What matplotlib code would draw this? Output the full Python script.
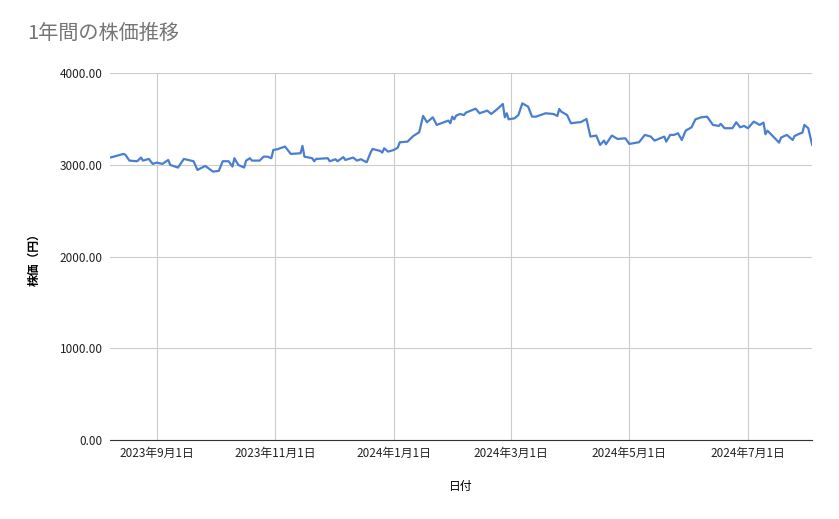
import matplotlib
matplotlib.use("Agg")
import matplotlib.pyplot as plt
import pandas as pd

plt.rcParams['font.family'] = ['Noto Sans CJK JP', 'DejaVu Sans']

# traced daily closes (approximate)
dates = [
    "2023-08-08", "2023-08-10", "2023-08-15", "2023-08-16", "2023-08-18", "2023-08-22",
    "2023-08-24", "2023-08-25", "2023-08-28", "2023-08-30", "2023-09-01", "2023-09-04",
    "2023-09-07", "2023-09-08", "2023-09-12", "2023-09-15", "2023-09-20", "2023-09-22",
    "2023-09-26", "2023-09-30", "2023-10-03", "2023-10-05", "2023-10-08", "2023-10-10",
    "2023-10-11", "2023-10-13", "2023-10-16", "2023-10-17", "2023-10-19", "2023-10-20",
    "2023-10-24", "2023-10-26", "2023-10-28", "2023-10-30", "2023-10-31", "2023-11-02",
    "2023-11-06", "2023-11-09", "2023-11-14", "2023-11-15", "2023-11-16", "2023-11-20",
    "2023-11-21", "2023-11-22", "2023-11-28", "2023-11-29", "2023-12-02", "2023-12-03",
    "2023-12-06", "2023-12-07", "2023-12-11", "2023-12-13", "2023-12-15", "2023-12-18",
    "2023-12-20", "2023-12-21", "2023-12-25", "2023-12-26", "2023-12-27", "2023-12-29",
    "2024-01-01", "2024-01-03", "2024-01-04", "2024-01-08", "2024-01-11", "2024-01-14",
    "2024-01-16", "2024-01-18", "2024-01-21", "2024-01-23", "2024-01-29", "2024-01-30",
    "2024-01-31", "2024-02-01", "2024-02-02", "2024-02-04", "2024-02-06", "2024-02-07",
    "2024-02-12", "2024-02-14", "2024-02-18", "2024-02-20", "2024-02-23", "2024-02-26",
    "2024-02-27", "2024-02-28", "2024-02-29", "2024-03-03", "2024-03-05", "2024-03-07",
    "2024-03-10", "2024-03-12", "2024-03-14", "2024-03-19", "2024-03-23", "2024-03-25",
    "2024-03-26", "2024-03-27", "2024-03-30", "2024-04-01", "2024-04-05", "2024-04-06",
    "2024-04-09", "2024-04-11", "2024-04-14", "2024-04-16", "2024-04-18", "2024-04-19",
    "2024-04-22", "2024-04-25", "2024-04-29", "2024-05-01", "2024-05-06", "2024-05-09",
    "2024-05-12", "2024-05-14", "2024-05-19", "2024-05-20", "2024-05-22", "2024-05-24",
    "2024-05-26", "2024-05-28", "2024-05-30", "2024-06-02", "2024-06-04", "2024-06-07",
    "2024-06-10", "2024-06-13", "2024-06-16", "2024-06-17", "2024-06-19", "2024-06-23",
    "2024-06-25", "2024-06-27", "2024-06-29", "2024-07-01", "2024-07-04", "2024-07-07",
    "2024-07-09", "2024-07-10", "2024-07-11", "2024-07-14", "2024-07-17", "2024-07-18",
    "2024-07-21", "2024-07-24", "2024-07-25", "2024-07-28", "2024-07-29", "2024-07-30",
    "2024-08-01", "2024-08-03",
]
prices = [
    3080, 3090, 3120, 3110, 3047, 3040,
    3080, 3047, 3065, 3011, 3025, 3011,
    3054, 3000, 2971, 3065, 3040, 2945,
    2989, 2927, 2935, 3040, 3040, 2982,
    3073, 3000, 2971, 3047, 3073, 3047,
    3047, 3090, 3090, 3073, 3163, 3170,
    3200, 3120, 3127, 3207, 3090, 3073,
    3040, 3065, 3073, 3040, 3062, 3040,
    3085, 3054, 3080, 3047, 3062, 3029,
    3134, 3174, 3152, 3134, 3181, 3145,
    3163, 3189, 3247, 3254, 3316, 3356,
    3534, 3465, 3519, 3436, 3483, 3454,
    3526, 3497, 3537, 3555, 3544, 3570,
    3613, 3563, 3592, 3555, 3606, 3664,
    3519, 3563, 3497, 3508, 3544, 3671,
    3635, 3526, 3526, 3563, 3555, 3534,
    3610, 3581, 3544, 3454, 3465, 3465,
    3501, 3309, 3320, 3218, 3265, 3225,
    3320, 3283, 3290, 3229, 3247, 3327,
    3309, 3265, 3309, 3254, 3327, 3327,
    3345, 3272, 3374, 3410, 3497, 3519,
    3526, 3436, 3425, 3447, 3400, 3400,
    3465, 3410, 3425, 3400, 3472, 3436,
    3461, 3334, 3374, 3309, 3243, 3298,
    3327, 3272, 3316, 3345, 3352, 3436,
    3400, 3218,
]
tick_dates = ["2023-09-01", "2023-11-01", "2024-01-01", "2024-03-01", "2024-05-01", "2024-07-01"]
tick_labels = ["2023年9月1日", "2023年11月1日", "2024年1月1日", "2024年3月1日", "2024年5月1日", "2024年7月1日"]
y_ticks = [0, 1000, 2000, 3000, 4000]

x = pd.to_datetime(dates)

fig = plt.figure(figsize=(8.39, 5.19), dpi=100)
ax = fig.add_axes([0.131, 0.152, 0.837, 0.707])
ax.plot(x, prices, color='#4a7fd0', lw=1.6)

ax.set_xlim(x.min(), x.max())
ax.set_ylim(0, 4000)
ax.set_yticks(y_ticks)
ax.set_yticklabels([f"{v:.2f}" for v in y_ticks])
ax.set_xticks(pd.to_datetime(tick_dates))
ax.set_xticklabels(tick_labels)
ax.tick_params(length=0, labelsize=8.5, colors='#222222', pad=5)
ax.grid(True, color='#cccccc', lw=0.8)
for s in ['top', 'right', 'left']:
    ax.spines[s].set_visible(False)
ax.spines['bottom'].set_color('#333333')

ax.set_xlabel("日付", fontsize=8.5, labelpad=14)
ax.set_ylabel("株価（円）", fontsize=8.5, fontweight='bold', labelpad=14)
fig.text(0.032, 0.925, "1年間の株価推移", fontsize=14.5, color='#757575')

fig.savefig("out.png")
